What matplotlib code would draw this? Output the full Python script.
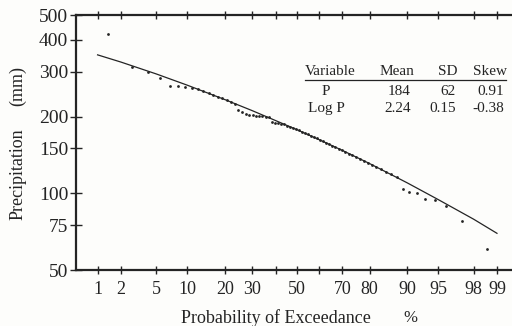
import matplotlib
matplotlib.use("Agg")
import matplotlib.pyplot as plt
from statistics import NormalDist

# Annual precipitation (mm), ranked from largest to smallest
precip = [421, 312, 300, 283, 264, 263, 261, 259, 256, 251.5,
          247, 243, 239, 235.5, 232, 228.5, 225, 212, 209, 204,
          203, 202, 201.5, 201, 200.5, 199.5, 198.5, 190, 189, 188.5,
          187.5, 186.5, 184.5, 182.9, 180.7, 178.7, 176.6, 174.5, 172.4, 170.4,
          168.3, 166.3, 164.3, 162.2, 160.2, 158.1, 156.1, 154.0, 151.9, 149.8,
          147.7, 145.5, 143.3, 141.1, 138.9, 136.7, 134.4, 132.0, 129.6, 127.0,
          124.4, 121.6, 118.8, 115.8, 104, 101, 100.5, 95, 94, 89.5,
          78, 60.5]

# Fitted log-Pearson type III curve
fit_prob = [1, 2, 5, 10, 20, 30, 40, 50, 60, 70, 80, 90, 95, 98, 99]
fit_precip = [349, 327, 294, 265.5, 233, 211, 193, 177.5, 162.5, 147.5,
              131, 110, 94.5, 79.3, 69.8]

prob_ticks = [1, 2, 5, 10, 20, 30, 40, 50, 60, 70, 80, 90, 95, 98, 99]
prob_labels = ['1', '2', '5', '10', '20', '30', '', '50', '', '70',
               '80', '90', '95', '98', '99']
precip_ticks = [50, 75, 100, 150, 200, 300, 400, 500]

stats_header = ['Variable', 'Mean', 'SD', 'Skew']
stats_rows = [['P', '184', '62', '0.91'],
              ['Log P', '2.24', '0.15', '-0.38']]

W, H = 512, 326
ink = '#242424'
serif = ['Liberation Serif', 'DejaVu Serif']
plt.rcParams['font.family'] = serif

nd = NormalDist()


def zq(p):
    """Normal-probability axis coordinate for an exceedance percentage."""
    return nd.inv_cdf(p / 100.0)


def fx(px):
    return px / W


def fy(py):
    return 1 - py / H


fig = plt.figure(figsize=(W / 100, H / 100), dpi=100)
fig.patch.set_facecolor('#fdfdfb')

left, right, top, bottom = 76, 515, 15, 270.3
ax = fig.add_axes([fx(left), fy(bottom), (right - left) / W, (bottom - top) / H])
ax.set_facecolor('#fdfdfb')

# Weibull plotting positions
n = len(precip)
pos = [zq(100.0 * (m + 1) / (n + 1)) for m in range(n)]
ax.plot(pos, precip, linestyle='none', marker='o', ms=2.0, color=ink, mew=0)

ax.plot([zq(p) for p in fit_prob], fit_precip, color=ink, lw=0.9)

ax.set_yscale('log')
ax.set_ylim(50, 500)
ax.set_xlim(zq(0.497), zq(99.44))

ax.set_yticks(precip_ticks)
ax.set_yticklabels([str(v) for v in precip_ticks])
ax.yaxis.set_minor_locator(matplotlib.ticker.NullLocator())
ax.set_xticks([zq(p) for p in prob_ticks])
ax.set_xticklabels(prob_labels)

ax.tick_params(axis='y', direction='inout', length=8, width=1.0, colors=ink,
               labelsize=14, pad=1.5)
ax.tick_params(axis='x', direction='inout', length=6, width=1.0, colors=ink,
               labelsize=13, pad=5, top=True)
for s in ax.spines.values():
    s.set_color(ink)
    s.set_linewidth(1.6)

# Axis titles
fig.text(fx(18), fy(174), 'Precipitation', rotation=90, ha='center',
         va='center', fontsize=13, color=ink)
fig.text(fx(18), fy(86), '(mm)', rotation=90, ha='center', va='center',
         fontsize=13, color=ink)
fig.text(fx(276), fy(318), 'Probability of Exceedance', ha='center',
         va='center', fontsize=13, color=ink)
fig.text(fx(410), fy(318), '%', ha='center', va='center', fontsize=12,
         color=ink)

# Summary statistics table
ts = 11
fig.text(fx(305), fy(71.5), stats_header[0], ha='left', va='center',
         fontsize=ts, color=ink)
fig.text(fx(414), fy(71.5), stats_header[1], ha='right', va='center',
         fontsize=ts, color=ink)
fig.text(fx(457.5), fy(71.5), stats_header[2], ha='right', va='center',
         fontsize=ts, color=ink)
fig.text(fx(506.5), fy(71.5), stats_header[3], ha='right', va='center',
         fontsize=ts, color=ink)
fig.add_artist(plt.Line2D([fx(305), fx(506)], [fy(79.5), fy(79.5)],
                          color=ink, lw=0.9))
for row, yc in zip(stats_rows, [91.7, 108.3]):
    fig.text(fx(326), fy(yc), row[0], ha='center', va='center',
             fontsize=ts, color=ink)
    fig.text(fx(411), fy(yc), row[1], ha='right', va='center',
             fontsize=ts, color=ink)
    fig.text(fx(456), fy(yc), row[2], ha='right', va='center',
             fontsize=ts, color=ink)
    fig.text(fx(504.5), fy(yc), row[3], ha='right', va='center',
             fontsize=ts, color=ink)

fig.savefig('out.png', dpi=100, facecolor=fig.get_facecolor())
